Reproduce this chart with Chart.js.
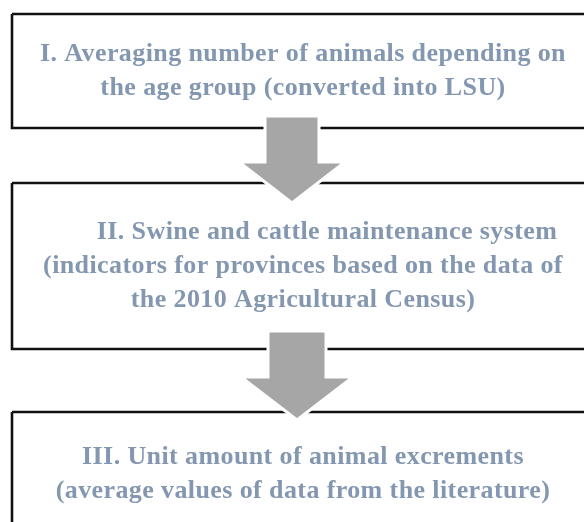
<!DOCTYPE html>
<html>
<head>
<meta charset="utf-8">
<script src="https://cdn.jsdelivr.net/npm/chart.js@4.4.1/dist/chart.umd.min.js"></script>
<style>
  body { margin: 0; background: #fff; }
  .flow_container { width: 584px; height: 522px; }
</style>
</head>
<body>
<div class="flow_container">
  <canvas id="flow"></canvas>
</div>

<script>
// stage texts, one list per box
var stage1 = ["I. Averaging number of animals depending on", "the age group (converted into LSU)"];
var stage2 = ["II. Swine and cattle maintenance system", "(indicators for provinces based on the data of", "the 2010 Agricultural Census)"];
var stage3 = ["III. Unit amount of animal excrements", "(average values of data from the literature)"];
var stages = [stage1, stage2, stage3];

// layout (in axis units, axes span the canvas)
var boxLeft = 12, boxRight = 640;
var boxTop = [14, 183, 412];
var boxBottom = [128, 349, 560];
var firstBaseline = [61, 239, 464];
var lineGap = 34;
var lineShift = [[0, 0], [24, 0, 0], [0, 0]];
var textCenter = 303;

// arrows: shaft center, shaft half width, shaft top, head top, head half width, tip
var arrowCenter = [292, 297];
var shaftHalf = [27, 29];
var shaftTop = [116, 331];
var headTop = [162, 377];
var headHalf = [53, 56];
var arrowTip = [203, 420];

function boxPoints(i) {
  return [
    {x: boxLeft, y: boxTop[i]}, {x: boxRight, y: boxTop[i]},
    {x: boxRight, y: boxBottom[i]}, {x: boxLeft, y: boxBottom[i]},
    {x: boxLeft, y: boxTop[i]}
  ];
}

function arrowPoints(i) {
  var c = arrowCenter[i];
  return [
    {x: c - shaftHalf[i], y: shaftTop[i]}, {x: c + shaftHalf[i], y: shaftTop[i]},
    {x: c + shaftHalf[i], y: headTop[i]}, {x: c + headHalf[i], y: headTop[i]},
    {x: c, y: arrowTip[i]},
    {x: c - headHalf[i], y: headTop[i]}, {x: c - shaftHalf[i], y: headTop[i]},
    {x: c - shaftHalf[i], y: shaftTop[i]}
  ];
}

var datasets = [];
[0, 1].forEach(function(i) {
  datasets.push({
    data: arrowPoints(i),
    showLine: true,
    fill: 'shape',
    backgroundColor: '#a6a6a6',
    borderColor: '#ffffff',
    borderWidth: 3,
    borderJoinStyle: 'miter',
    pointRadius: 0,
    tension: 0,
    order: 0
  });
});
[0, 1, 2].forEach(function(i) {
  datasets.push({
    data: boxPoints(i),
    showLine: true,
    fill: false,
    borderColor: '#111111',
    borderWidth: 2.6,
    borderJoinStyle: 'miter',
    pointRadius: 0,
    tension: 0,
    order: 1
  });
});

var stageText = {
  id: 'stageText',
  afterDatasetsDraw: function(chart) {
    var ctx = chart.ctx;
    var xs = chart.scales.x, ys = chart.scales.y;
    ctx.save();
    ctx.fillStyle = '#8497b0';
    ctx.font = 'bold 26px "Liberation Serif"';
    ctx.letterSpacing = '0.4px';
    ctx.textAlign = 'center';
    ctx.textBaseline = 'alphabetic';
    stages.forEach(function(lines, i) {
      lines.forEach(function(line, j) {
        var px = xs.getPixelForValue(textCenter + lineShift[i][j]);
        var py = ys.getPixelForValue(firstBaseline[i] + j * lineGap);
        ctx.fillText(line, px, py);
      });
    });
    ctx.restore();
  }
};

var ctx = document.getElementById("flow");
var flow = new Chart(ctx, {
  type: 'scatter',
  data: { datasets: datasets },
  options: {
    responsive: true,
    maintainAspectRatio: false,
    animation: false,
    events: [],
    layout: { padding: 0 },
    plugins: {
      legend: { display: false },
      tooltip: { enabled: false }
    },
    scales: {
      x: { type: 'linear', min: 0, max: 584, display: false },
      y: { type: 'linear', min: 0, max: 522, reverse: true, display: false }
    }
  },
  plugins: [stageText]
});
</script>
</body>
</html>
